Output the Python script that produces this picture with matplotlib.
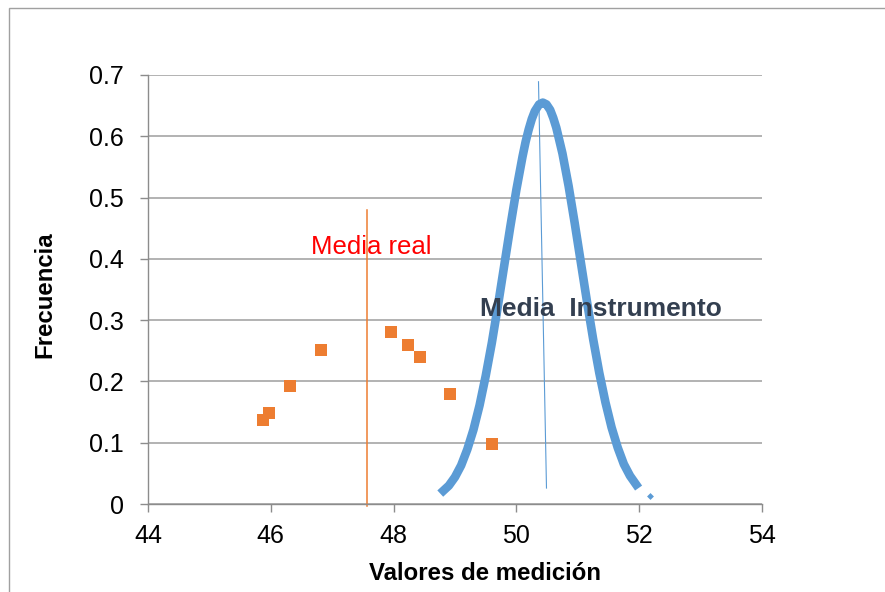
import matplotlib

matplotlib.use("Agg")
import matplotlib.pyplot as plt
from matplotlib.patches import Rectangle

plt.rcParams["font.family"] = ["Liberation Sans", "DejaVu Sans"]

# measured points (orange squares)
real_x = [45.88, 45.97, 46.31, 46.81, 47.96, 48.23, 48.43, 48.92, 49.61]
real_y = [0.137, 0.148, 0.192, 0.251, 0.281, 0.260, 0.240, 0.179, 0.098]

# instrument distribution curve
inst_x = [48.76, 48.9, 49.0, 49.1, 49.2, 49.3, 49.4, 49.5, 49.6, 49.7, 49.8,
          49.9, 50.0, 50.1, 50.15, 50.2, 50.25, 50.3, 50.37, 50.43, 50.49,
          50.55, 50.6, 50.65, 50.75, 50.85, 50.95, 51.05, 51.15, 51.25,
          51.35, 51.45, 51.55, 51.65, 51.75, 51.85, 51.99]
inst_y = [0.017, 0.030, 0.044, 0.063, 0.089, 0.121, 0.161, 0.209, 0.263,
          0.324, 0.388, 0.452, 0.513, 0.567, 0.591, 0.611, 0.628, 0.641,
          0.652, 0.655, 0.652, 0.643, 0.630, 0.614, 0.572, 0.519, 0.458,
          0.394, 0.330, 0.269, 0.214, 0.166, 0.125, 0.092, 0.065, 0.046,
          0.026]

# stray point right of the curve
extra_x = [52.17]
extra_y = [0.013]

# "media real" vertical line
real_line_x = [47.56, 47.56]
real_line_y = [-0.003, 0.48]

# "media instrumento" line (slightly slanted)
inst_line_x = [50.36, 50.49]
inst_line_y = [0.689, 0.026]

x_ticks = [44, 46, 48, 50, 52, 54]
y_ticks = [0, 0.1, 0.2, 0.3, 0.4, 0.5, 0.6, 0.7]
y_tick_labels = ["0", "0.1", "0.2", "0.3", "0.4", "0.5", "0.6", "0.7"]

BLUE = "#5B9BD5"
ORANGE = "#ED7D31"
GRID = "#A6A6A6"

fig = plt.figure(figsize=(8.85, 5.92), dpi=100)
fig.patches.append(Rectangle((9 / 885, -0.05), 1.1, 1 - 8 / 592 + 0.05,
                             transform=fig.transFigure, fill=False,
                             edgecolor="#A0A0A0", lw=1.0))

ax = fig.add_axes([148 / 885, 88 / 592, 614 / 885, 429 / 592])

ax.plot(inst_x, inst_y, color=BLUE, lw=6.2, solid_capstyle="butt",
        solid_joinstyle="round", zorder=3)
ax.plot(extra_x, extra_y, "D", color=BLUE, ms=3.5, mew=0, zorder=3)
ax.plot(real_x, real_y, "s", color=ORANGE, ms=8.2, mew=0, zorder=4)
ax.plot(real_line_x, real_line_y, color=ORANGE, lw=1.1, clip_on=False, zorder=2)
ax.plot(inst_line_x, inst_line_y, color=BLUE, lw=0.8, zorder=4)

ax.text(46.65, 0.408, "Media real", color="#FF0000", fontsize=18.5,
        ha="left", va="baseline")
ax.text(49.41, 0.307, "Media  Instrumento", color="#333F50", fontsize=19,
        fontweight="bold", ha="left", va="baseline", zorder=5)

ax.set_xlim(44, 54)
ax.set_ylim(0, 0.7)
ax.set_xticks(x_ticks)
ax.set_yticks(y_ticks)
ax.set_yticklabels(y_tick_labels)
ax.yaxis.grid(True, color=GRID, lw=1.2)
ax.set_axisbelow(True)

for s in ("top", "right"):
    ax.spines[s].set_visible(False)
for s in ("left", "bottom"):
    ax.spines[s].set_color("#8C8C8C")
    ax.spines[s].set_linewidth(1.0)

ax.tick_params(axis="both", colors="#8C8C8C", labelcolor="black",
               labelsize=18, length=5.5, width=1.0, direction="out")
ax.tick_params(axis="y", pad=12)
ax.tick_params(axis="x", pad=9)

ax.set_xlabel("Valores de medición", fontsize=17.3, fontweight="bold")
ax.xaxis.label.set_va("center")
ax.xaxis.set_label_coords((485 - 148) / 614, -(574 - 504) / 429)
ax.set_ylabel("Frecuencia", fontsize=17.3, fontweight="bold")
ax.yaxis.label.set_va("center")
ax.yaxis.set_label_coords((45 - 148) / 614, (504 - 294.5) / 429)

fig.savefig("out.png", dpi=100)
